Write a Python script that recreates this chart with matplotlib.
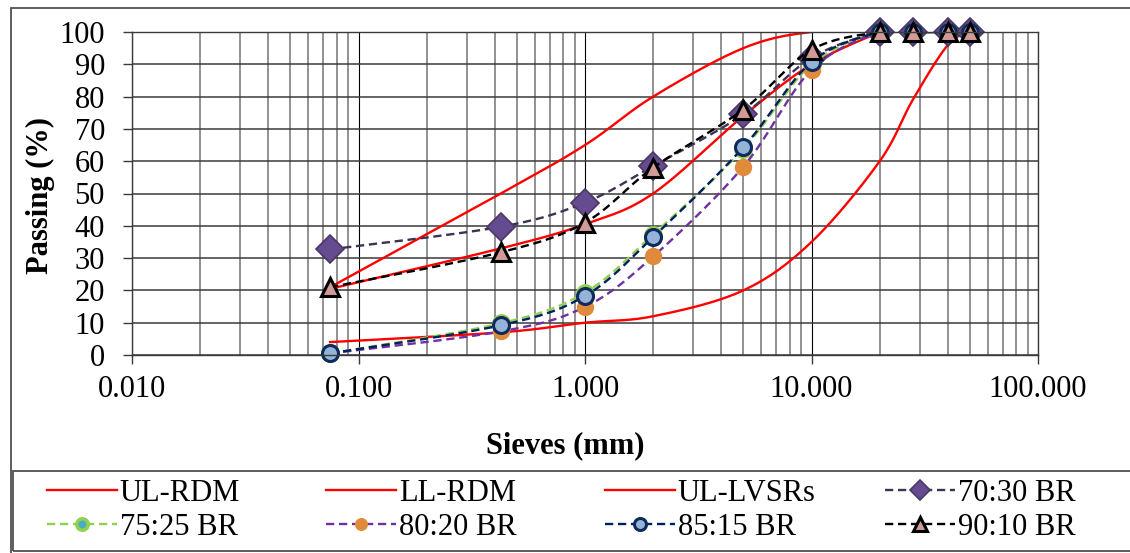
import numpy as np
import matplotlib
matplotlib.use('Agg')
import matplotlib.pyplot as plt
from matplotlib.lines import Line2D
from matplotlib.patches import Rectangle

plt.rcParams['font.family'] = ['Liberation Serif', 'DejaVu Serif']

# sieve sizes (mm)
sieves = [0.075, 0.425, 1, 2, 5, 10, 20, 28, 40, 50]

# grading envelopes
ul_rdm_x = [0.075, 0.425, 1, 2, 5, 10, 20]
ul_rdm_y = [21, 50, 65, 80, 95, 100, 100]
ll_rdm_x = [0.075, 0.425, 1, 2, 5, 10, 20, 28, 40, 50]
ll_rdm_y = [4, 7, 10, 12, 20, 35, 60, 79, 96, 100]
ul_lvsr_x = [0.075, 0.425, 1, 2, 5, 10, 20]
ul_lvsr_y = [20.5, 33, 40.5, 50, 74, 90, 100]

# blends
br_70_30 = [32.7, 39.7, 47.2, 58.5, 74.5, 92, 100, 100, 100, 100]
br_75_25 = [0.5, 9.8, 19.3, 37.3, 63.8, 90, 100, 100, 100, 100]
br_80_20 = [0.5, 7.3, 14.9, 30.5, 58.3, 88.3, 100, 100, 100, 100]
br_85_15 = [0.5, 9.2, 18.3, 36.5, 64.3, 90.7, 100, 100, 100, 100]
br_90_10 = [21, 31.8, 41, 58, 76, 94.5, 100, 100, 100, 100]

x_ticks = [0.01, 0.1, 1, 10, 100]
x_labels = ['0.010', '0.100', '1.000', '10.000', '100.000']
y_ticks = list(range(0, 101, 10))


def smooth(xs, ys, n=30):
    # excel style smoothed line (bezier through the points, log x)
    u = np.log10(np.asarray(xs, dtype=float))
    v = np.asarray(ys, dtype=float)
    U, V = [], []
    t = np.linspace(0, 1, n)
    for i in range(len(u) - 1):
        a = max(i - 1, 0)
        b = min(i + 2, len(u) - 1)
        c1u = u[i] + (u[i + 1] - u[a]) / 6
        c1v = v[i] + (v[i + 1] - v[a]) / 6
        c2u = u[i + 1] - (u[b] - u[i]) / 6
        c2v = v[i + 1] - (v[b] - v[i]) / 6
        k0 = (1 - t) ** 3
        k1 = 3 * (1 - t) ** 2 * t
        k2 = 3 * (1 - t) * t ** 2
        k3 = t ** 3
        U.extend(k0 * u[i] + k1 * c1u + k2 * c2u + k3 * u[i + 1])
        V.extend(k0 * v[i] + k1 * c1v + k2 * c2v + k3 * v[i + 1])
    return 10 ** np.array(U), np.array(V)


fig = plt.figure(figsize=(11.3, 5.53), dpi=100)
ax = fig.add_axes([132 / 1130, 1 - 355 / 553, 906 / 1130, 323 / 553])
ax.set_xscale('log')
ax.set_xlim(0.01, 100)
ax.set_ylim(0, 100)

ax.grid(True, which='major', axis='x', color='black', lw=0.8)
ax.grid(True, which='minor', axis='x', color='#7f7f7f', lw=1.2)
ax.grid(True, which='major', axis='y', color='#3a3a3a', lw=1.1)
ax.set_axisbelow(True)

ax.set_xticks(x_ticks)
ax.set_xticklabels(x_labels)
ax.set_yticks(y_ticks)
ax.tick_params(axis='both', which='major', labelsize=22, length=6.5, width=1, color='#3a3a3a')
ax.tick_params(axis='y', pad=13)
ax.tick_params(axis='x', pad=8)
ax.tick_params(axis='x', which='minor', length=0)
for s in ax.spines.values():
    s.set_color('#3a3a3a')
    s.set_linewidth(1)

red = dict(color='#ff0000', lw=1.7)
for xs, ys in [(ul_rdm_x, ul_rdm_y), (ll_rdm_x, ll_rdm_y), (ul_lvsr_x, ul_lvsr_y)]:
    sx, sy = smooth(xs, ys)
    ax.plot(sx, sy, **red)

series = [
    ('70:30 BR', br_70_30, dict(color='#403152'),
     dict(marker='D', ms=14, mfc='#654b8f', mec='#4a3766', mew=1.2)),
    ('75:25 BR', br_75_25, dict(color='#92d050'),
     dict(marker='o', ms=11, mfc='#4bacc6', mec='#92d050', mew=2.5)),
    ('80:20 BR', br_80_20, dict(color='#7030a0'),
     dict(marker='o', ms=12.5, mfc='#e08a3c', mec='#e08a3c', mew=0)),
    ('85:15 BR', br_85_15, dict(color='#002060'),
     dict(marker='o', ms=11.5, mfc='#95b3d7', mec='#0f2a5c', mew=2.2)),
    ('90:10 BR', br_90_10, dict(color='black'),
     dict(marker='^', ms=13, mfc='#d09a98', mec='black', mew=2.2)),
]

handles = []
for name, vals, lst, mk in series:
    sx, sy = smooth(sieves, vals)
    ax.plot(sx, sy, ls=(0, (3.5, 2)), lw=1.7, **lst)
    ax.plot(sieves, vals, ls='none', clip_on=False, **mk)
    handles.append(Line2D([], [], ls=(0, (3.5, 2)), lw=1.7, **lst, **mk))

red_h = [Line2D([], [], **red) for _ in range(3)]
names = ['UL-RDM', 'LL-RDM', 'UL-LVSRs'] + [s[0] for s in series]
all_h = red_h + handles

# legend: 4 columns x 2 rows
col_x = [47, 326, 605, 885]
for c in range(4):
    hh = [all_h[c], all_h[c + 4]]
    ll = [names[c], names[c + 4]]
    fig.legend(hh, ll, loc='upper left', bbox_to_anchor=(col_x[c] / 1130, 1 - 479 / 553),
               frameon=False, fontsize=22, handlelength=2.3, handletextpad=0.08,
               borderpad=0, borderaxespad=0, labelspacing=0.15, numpoints=1,
               markerscale=0.75)

fig.text(40 / 1130, 1 - 195 / 553, 'Passing (%)', rotation=90, ha='center', va='center',
         fontsize=22, fontweight='bold')
fig.text(565 / 1130, 1 - 446 / 553, 'Sieves (mm)', ha='center', va='center',
         fontsize=22, fontweight='bold')

# outer chart border and legend box
fig.patches.append(Rectangle((11 / 1130, -0.1), 1.2, (553 - 8) / 553 + 0.1, transform=fig.transFigure,
                             fill=False, ec='#505050', lw=1.3))
fig.patches.append(Rectangle((13 / 1130, 1 - 551 / 553), 1.2, 80 / 553, transform=fig.transFigure,
                             fill=False, ec='#505050', lw=1.3))

fig.savefig('out.png', dpi=100)
